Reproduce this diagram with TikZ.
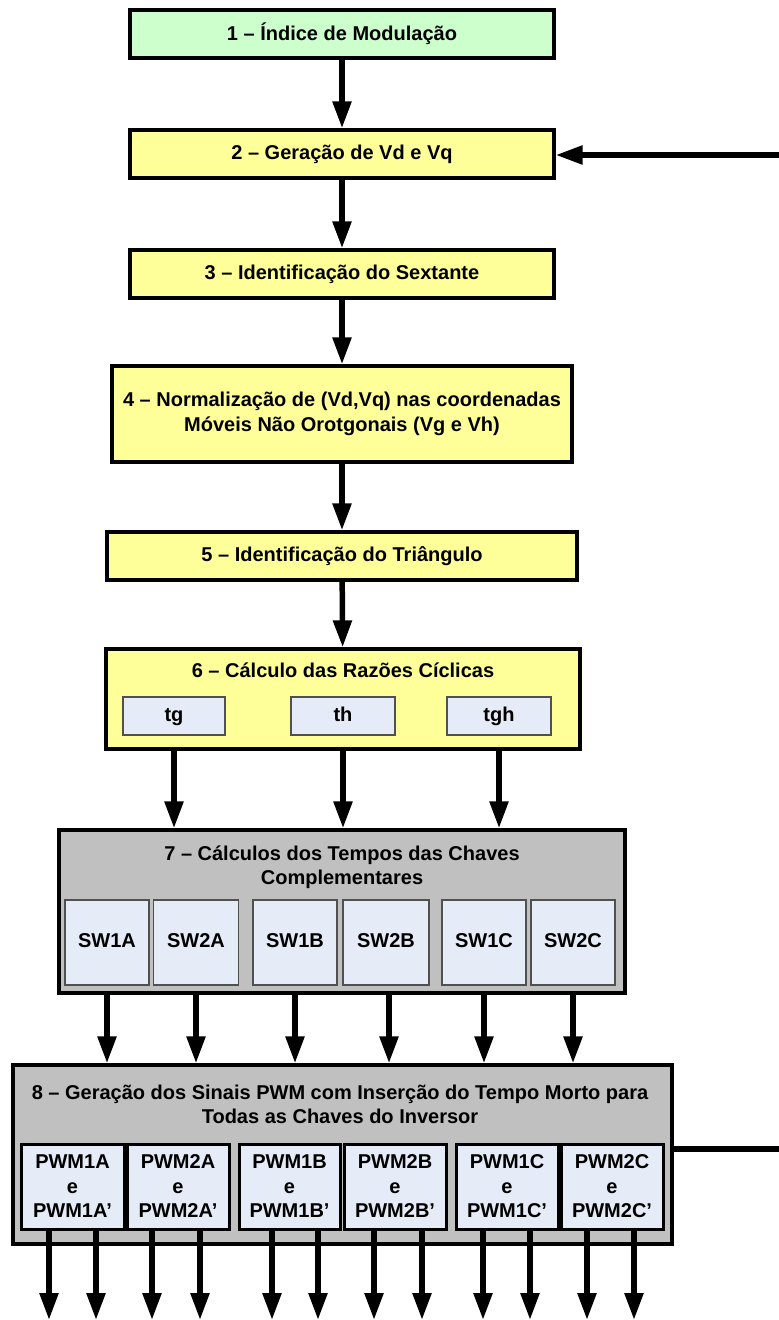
\documentclass[tikz,border=0pt]{standalone}
\usepackage{fontspec}
\setmainfont{Liberation Sans}
\usetikzlibrary{arrows.meta}

\definecolor{fillgreen}{HTML}{CCFFCC}
\definecolor{fillyellow}{HTML}{FFFF99}
\definecolor{fillgray}{HTML}{C0C0C0}
\definecolor{fillblue}{HTML}{E6ECF7}
\definecolor{thinedge}{HTML}{505050}

\begin{document}
\begin{tikzpicture}[x=1pt,y=-1pt,
  txt/.style={font=\fontsize{20}{24.5}\selectfont\bfseries, align=center},
  sz/.style 2 args={minimum width=#1pt, minimum height=#2pt},
  stage/.style={draw, line width=3.3pt, rectangle, inner sep=0pt, txt},
  sub/.style={draw=thinedge, line width=1.2pt, fill=fillblue, inner sep=0pt, txt,
              text height=14.5pt, text depth=4pt},
  pwmbox/.style={draw, line width=3pt, fill=fillblue, inner sep=0pt, txt},
  title/.style={txt, inner sep=0pt},
  arr/.style={line width=5.5pt, -{Triangle[width=18pt,length=27pt]}},
  wire/.style={line width=5.5pt},
]
\useasboundingbox (0,0) rectangle (779,1320);

% main chain of stages
\node[stage, fill=fillgreen,  sz={424}{48}] (b1) at (342,34)  {1 – Índice de Modulação};
\node[stage, fill=fillyellow, sz={424}{48}] (b2) at (342,154) {2 – Geração de Vd e Vq};
\node[stage, fill=fillyellow, sz={424}{48}] (b3) at (342,274) {3 – Identificação do Sextante};
\node[stage, fill=fillyellow, sz={460}{96}] (b4) at (342,414)
  {4 – Normalização de (Vd,Vq) nas coordenadas\\Móveis Não Orotgonais (Vg e Vh)};
\node[stage, fill=fillyellow, sz={470}{48}] (b5) at (342,556) {5 – Identificação do Triângulo};

% stage 6 with its three duty ratios
\node[stage, fill=fillyellow, sz={474}{100}] (b6) at (343,699) {};
\node[title] (t6) at (343,670) {6 – Cálculo das Razões Cíclicas};
\node[sub, sz={102}{38}] (tg)  at (174,716) {tg};
\node[sub, sz={104}{38}] (th)  at (343,716) {th};
\node[sub, sz={104}{38}] (tgh) at (499,716) {tgh};

% stage 7 with the switch times
\node[stage, fill=fillgray, sz={566}{163}] (b7) at (342,911.5) {};
\node[title] (t7) at (342,867) {7 – Cálculos dos Tempos das Chaves\\Complementares};
\node[sub, sz={84}{85}] (sw1a) at (107,942.5) {SW1A};
\node[sub, sz={85}{85}] (sw2a) at (196,942.5) {SW2A};
\node[sub, sz={84}{85}] (sw1b) at (295,942.5) {SW1B};
\node[sub, sz={86}{85}] (sw2b) at (386,942.5) {SW2B};
\node[sub, sz={84}{85}] (sw1c) at (484,942.5) {SW1C};
\node[sub, sz={84}{85}] (sw2c) at (573,942.5) {SW2C};

% stage 8 with the PWM outputs
\node[stage, fill=fillgray, sz={659}{179}] (b8) at (342.5,1154.5) {};
\node[title] (t8) at (340,1104.5)
  {8 – Geração dos Sinais PWM com Inserção do Tempo Morto para\\Todas as Chaves do Inversor};
\node[pwmbox, sz={103}{85}] (pwm1a) at (72.5,1186.5)  {PWM1A\\e\\PWM1A’};
\node[pwmbox, sz={102}{85}] (pwm2a) at (178,1186.5)   {PWM2A\\e\\PWM2A’};
\node[pwmbox, sz={101}{85}] (pwm1b) at (289.5,1186.5) {PWM1B\\e\\PWM1B’};
\node[pwmbox, sz={102}{85}] (pwm2b) at (395,1186.5)   {PWM2B\\e\\PWM2B’};
\node[pwmbox, sz={102}{85}] (pwm1c) at (507,1186.5)   {PWM1C\\e\\PWM1C’};
\node[pwmbox, sz={102}{85}] (pwm2c) at (612,1186.5)   {PWM2C\\e\\PWM2C’};

% flow between stages
\draw[arr] (b1) -- (b2);
\draw[arr] (b2) -- (b3);
\draw[arr] (b3) -- (b4);
\draw[arr] (b4) -- (b5);
\draw[arr] (b5) -- (b6);

\foreach \n in {tg,th,tgh}
  \draw[arr] (\n.south |- b6.south) -- (\n.south |- b7.north);

\foreach \n/\dx in {sw1a/0,sw2a/0,sw1b/0,sw2b/3,sw1c/0,sw2c/0}
  \draw[arr] ([xshift=\dx pt]\n.south |- b7.south) -- ([xshift=\dx pt]\n.south |- b8.north);

% gate signals leaving the inverter stage
\coordinate (bot) at (0,1320);
\foreach \n/\da/\db in {pwm1a/-23.5/23.5, pwm2a/-26/22, pwm1b/-17.5/28.5,
                        pwm2b/-21/27, pwm1c/-24/23, pwm2c/-25/22}{
  \draw[arr] ([xshift=\da pt]\n.south) -- ([xshift=\da pt]\n.south |- bot);
  \draw[arr] ([xshift=\db pt]\n.south) -- ([xshift=\db pt]\n.south |- bot);
}

% feedback from stage 8 back to stage 2
\coordinate (fbA) at (795,1149);
\coordinate (fbB) at (795,155);
\draw[wire] ([yshift=5.5pt]b8.east) -- (fbA) -- (fbB);
\draw[arr] (fbB) -- (b2.east |- fbB);
\end{tikzpicture}
\end{document}
